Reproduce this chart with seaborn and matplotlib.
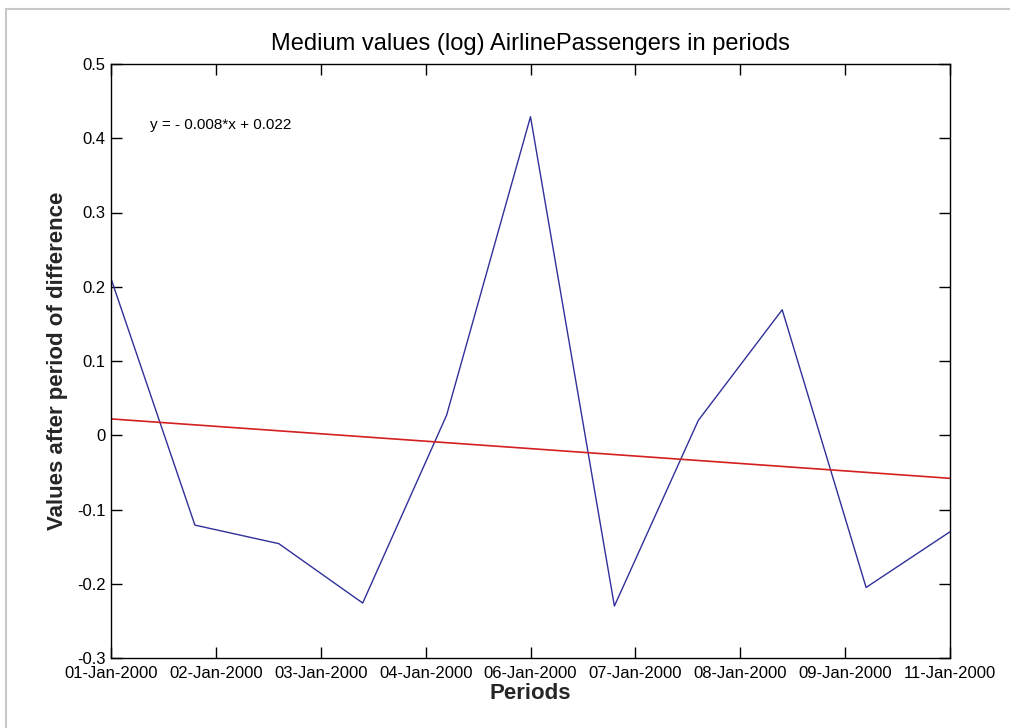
import numpy as np
import pandas as pd
import matplotlib
matplotlib.use("Agg")
import matplotlib.pyplot as plt
import matplotlib.dates as mdates
from matplotlib.patches import Rectangle
import seaborn as sns

# data
start_date = "2000-01-01"
n_periods = 11
values = [0.211, -0.121, -0.146, -0.226, 0.027, 0.429, -0.230, 0.020, 0.169, -0.205, -0.130]
slope = -0.008
intercept = 0.022
yticks = [-0.3, -0.2, -0.1, 0, 0.1, 0.2, 0.3, 0.4, 0.5]
ytick_labels = ["-0.3", "-0.2", "-0.1", "0", "0.1", "0.2", "0.3", "0.4", "0.5"]
n_xticks = 9

dates = pd.date_range(start_date, periods=n_periods, freq="D")
x_idx = np.arange(n_periods)
df = pd.DataFrame({"date": dates, "value": values,
                   "trend": slope * x_idx + intercept})

sns.set_style("ticks")
plt.rcParams['font.family'] = ['Liberation Sans', 'DejaVu Sans']

fig = plt.figure(figsize=(10.1, 7.28), dpi=100)
# light grey frame of the screenshot
fig.patches.append(Rectangle((6 / 1010, -0.01), 1.02, 1 - 9 / 728 + 0.01,
                             transform=fig.transFigure, fill=False,
                             edgecolor="#c8c8c8", linewidth=1.5))
ax = fig.add_axes([111 / 1010, 1 - 658 / 728, 839 / 1010, 594 / 728])

sns.lineplot(data=df, x="date", y="value", ax=ax, color="#30309a", linewidth=1.0)
sns.lineplot(data=df, x="date", y="trend", ax=ax, color="#d42020", linewidth=1.2)

ax.set_xlim(dates[0], dates[-1])
ax.set_ylim(yticks[0], yticks[-1])
ax.set_yticks(yticks)
ax.set_yticklabels(ytick_labels)
ax.set_xticks(pd.date_range(dates[0], dates[-1], periods=n_xticks))
ax.xaxis.set_major_formatter(mdates.DateFormatter("%d-%b-%Y"))

for s in ax.spines.values():
    s.set_visible(True)
    s.set_linewidth(1.0)
    s.set_color("black")
ax.tick_params(direction="in", length=8, width=1, top=True, right=True,
               labelsize=12, colors="black", pad=4)
ax.tick_params(axis="x", pad=6)

ax.set_title("Medium values (log) AirlinePassengers in periods", fontsize=17,
             color="black", pad=10)
ax.set_xlabel("Periods", fontsize=16, fontweight="bold", labelpad=1)
ax.set_ylabel("Values after period of difference", fontsize=16, fontweight="bold", labelpad=6)
ax.text(0.046, 0.897, "y = - 0.008*x + 0.022", transform=ax.transAxes,
        fontsize=11, va="center", ha="left", color="black")

fig.savefig("out.png", dpi=100)
